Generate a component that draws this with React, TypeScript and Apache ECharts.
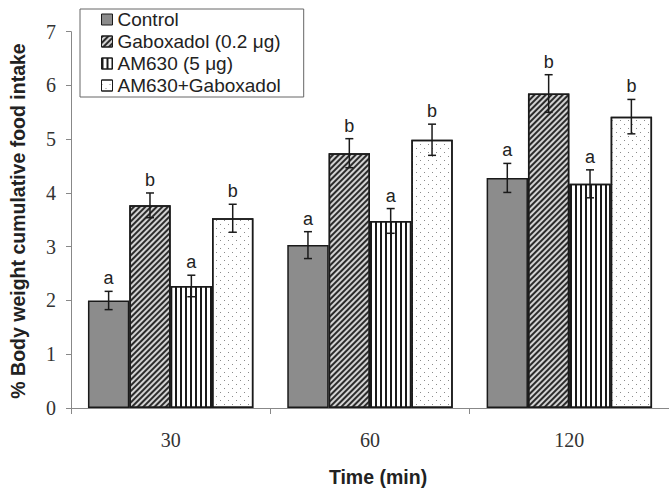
import React, { useEffect, useRef } from "react";
import * as echarts from "echarts";

const categories = ["30", "60", "120"];
const seriesNames = ["Control", "Gaboxadol (0.2 μg)", "AM630 (5 μg)", "AM630+Gaboxadol"];
const controlValues = [2.0, 3.03, 4.28];
const controlErrors = [0.17, 0.25, 0.27];
const gaboxadolValues = [3.77, 4.74, 5.85];
const gaboxadolErrors = [0.23, 0.27, 0.35];
const am630Values = [2.27, 3.48, 4.17];
const am630Errors = [0.2, 0.23, 0.26];
const comboValues = [3.53, 4.99, 5.42];
const comboErrors = [0.26, 0.29, 0.32];
const controlLetters = ["a", "a", "a"];
const gaboxadolLetters = ["b", "b", "b"];
const am630Letters = ["a", "a", "a"];
const comboLetters = ["b", "b", "b"];
const yTicks = [0, 1, 2, 3, 4, 5, 6, 7];

const allValues = [controlValues, gaboxadolValues, am630Values, comboValues];
const allErrors = [controlErrors, gaboxadolErrors, am630Errors, comboErrors];
const allLetters = [controlLetters, gaboxadolLetters, am630Letters, comboLetters];

const GAP = 0.17;
const SANS = "Liberation Sans, Arial, sans-serif";
const SERIF = "Liberation Serif, Times New Roman, serif";

export default function App() {
  const ref = useRef<HTMLDivElement>(null);
  useEffect(() => {
    const chart = echarts.init(ref.current!, null, { renderer: "svg" });

    const styles = [
      { color: "#8c8c8c" },
      {
        color: "#d2d2d2",
        decal: {
          symbol: "rect",
          color: "#2b2b2b",
          dashArrayX: [1, 0],
          dashArrayY: [1.4, 1.8],
          rotation: -Math.PI / 4,
        },
      },
      {
        color: "#ffffff",
        decal: {
          symbol: "rect",
          color: "#1a1a1a",
          dashArrayX: [1.3, 2.3],
          dashArrayY: [1, 0],
          rotation: 0,
        },
      },
      {
        color: "#ffffff",
        decal: {
          symbol: "rect",
          color: "#8a8a8a",
          dashArrayX: [
            [1, 7],
            [0, 4, 1, 3],
          ],
          dashArrayY: [1, 3],
          rotation: 0,
        },
      },
    ];

    const barSeries = seriesNames.map((name, i) => ({
      type: "bar",
      name,
      data: allValues[i],
      barGap: 0,
      barCategoryGap: GAP * 100 + "%",
      itemStyle: { ...styles[i], borderColor: "#1a1a1a", borderWidth: 1.5 },
      z: 2,
    }));

    const errData: number[][] = [];
    const errLetters: string[] = [];
    for (let s = 0; s < 4; s++) {
      for (let c = 0; c < categories.length; c++) {
        errData.push([c, allValues[s][c], allErrors[s][c], s]);
        errLetters.push(allLetters[s][c]);
      }
    }

    const option = {
      animation: false,
      backgroundColor: "#ffffff",
      grid: { left: 71, top: 31.7, width: 603, bottom: 83, containLabel: false },
      legend: {
        data: seriesNames.map((n) => ({ name: n, icon: "rect" })),
        orient: "vertical",
        left: 80,
        top: 9,
        padding: [1, 23, 2, 21],
        itemWidth: 11,
        itemHeight: 11,
        itemGap: 3,
        itemStyle: { borderColor: "#1a1a1a", borderWidth: 1 },
        borderColor: "#666",
        borderWidth: 1,
        textStyle: { fontFamily: SANS, fontSize: 19, lineHeight: 19, color: "#222" },
        selectedMode: false,
      },
      xAxis: {
        type: "category",
        data: categories,
        axisLine: { lineStyle: { color: "#888", width: 1 } },
        axisTick: { show: true, length: 6, lineStyle: { color: "#888" } },
        axisLabel: { fontFamily: SERIF, fontSize: 20, color: "#333", margin: 22 },
      },
      yAxis: {
        type: "value",
        min: 0,
        max: 7,
        interval: 1,
        axisLine: { show: true, lineStyle: { color: "#888", width: 1 } },
        axisTick: { show: true, length: 5, lineStyle: { color: "#888" } },
        splitLine: { show: false },
        axisLabel: {
          fontFamily: SERIF,
          fontSize: 20,
          color: "#333",
          margin: 15,
          formatter: (v: number) => (yTicks.includes(v) ? String(v) : ""),
        },
      },
      graphic: [
        {
          type: "text",
          x: 18,
          y: 221,
          rotation: Math.PI / 2,
          style: {
            text: "% Body weight cumulative food intake",
            fontFamily: SANS,
            fontSize: 19.5,
            fontWeight: "bold",
            fill: "#222",
            align: "center",
            verticalAlign: "middle",
          },
        },
        {
          type: "text",
          x: 378,
          y: 477,
          style: {
            text: "Time (min)",
            fontFamily: SANS,
            fontSize: 19.5,
            fontWeight: "bold",
            fill: "#222",
            align: "center",
            verticalAlign: "middle",
          },
        },
      ],
      series: [
        ...barSeries,
        {
          type: "custom",
          name: "errors",
          data: errData,
          z: 5,
          encode: { x: 0, y: 1 },
          renderItem: (params: any, api: any) => {
            const cat = api.value(0);
            const v = api.value(1);
            const e = api.value(2);
            const si = api.value(3);
            const band = api.size([1, 0])[0];
            const bw = (band * (1 - GAP)) / 4;
            const c = api.coord([cat, v]);
            const x = c[0] + (si - 1.5) * bw;
            const yTop = api.coord([cat, v + e])[1];
            const yBot = api.coord([cat, v - e])[1];
            const cap = 4;
            const ls = { stroke: "#1a1a1a", lineWidth: 1.5 };
            return {
              type: "group",
              children: [
                { type: "line", shape: { x1: x, y1: yTop, x2: x, y2: yBot }, style: ls },
                { type: "line", shape: { x1: x - cap, y1: yTop, x2: x + cap, y2: yTop }, style: ls },
                { type: "line", shape: { x1: x - cap, y1: yBot, x2: x + cap, y2: yBot }, style: ls },
                {
                  type: "text",
                  x,
                  y: yTop - 4,
                  style: {
                    text: errLetters[params.dataIndex],
                    fontFamily: SANS,
                    fontSize: 18,
                    fill: "#222",
                    align: "center",
                    verticalAlign: "bottom",
                  },
                },
              ],
            };
          },
        },
      ],
    };

    chart.setOption(option as any);
    return () => chart.dispose();
  }, []);

  return (
    <div
      ref={ref}
      style={{ position: "fixed", left: 0, top: 0, width: 669, height: 491, background: "#fff" }}
    />
  );
}
